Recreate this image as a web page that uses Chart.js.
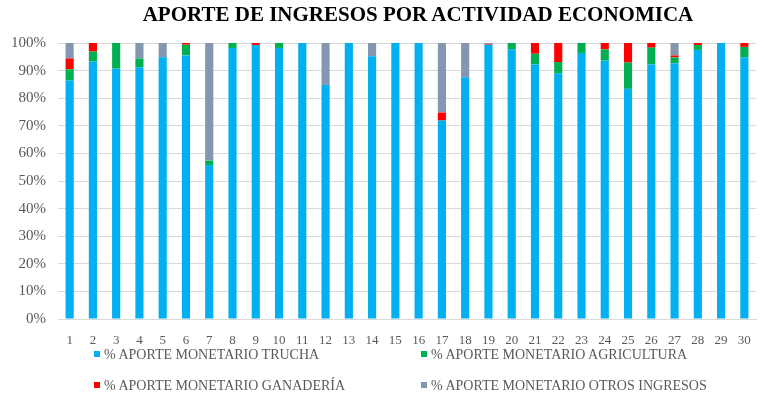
<!DOCTYPE html>
<html lang="es">
<head>
    <meta charset="UTF-8">
    <title>Aporte de ingresos por actividad economica</title>
    <script src="https://cdn.jsdelivr.net/npm/chart.js"></script>
    <style>
        html, body {
            margin: 0;
            padding: 0;
            background: #fff;
        }
        #wrap {
            position: relative;
            width: 765px;
            height: 399px;
        }
        #titulo {
            position: absolute;
            left: 0;
            width: 836px;
            top: 2px;
            text-align: center;
            font: bold 21px "Liberation Serif", serif;
            color: #000;
        }
        .leyenda {
            position: absolute;
            font: 14px "Liberation Serif", serif;
            color: #595959;
            white-space: nowrap;
        }
        .leyenda span {
            display: inline-block;
            width: 6px;
            height: 6px;
            margin-right: 4px;
            vertical-align: 2px;
        }
    </style>
</head>
<body>
<div id="wrap">
    <canvas id="grafico" width="765" height="399"></canvas>
    <div id="titulo">APORTE DE INGRESOS POR ACTIVIDAD ECONOMICA</div>
    <div id="leyenda"></div>
</div>

<script>
    // datos
    const categorias = ['1','2','3','4','5','6','7','8','9','10','11','12','13','14','15',
        '16','17','18','19','20','21','22','23','24','25','26','27','28','29','30'];

    const trucha = [86.4, 93.3, 90.7, 91.2, 94.8, 95.5, 55.8, 98.2, 99.3, 98.2,
        100, 84.8, 100, 95.2, 100, 100, 71.9, 87.6, 99.4, 97.6,
        92.2, 89.0, 96.4, 93.6, 83.4, 92.2, 92.7, 97.5, 100, 94.8];
    const agricultura = [4.1, 3.6, 9.3, 3.2, 0, 3.9, 1.6, 1.8, 0, 1.8,
        0, 0, 0, 0, 0, 0, 0, 0, 0, 2.4,
        3.9, 4.1, 3.6, 4.1, 9.5, 6.1, 2.1, 1.8, 0, 3.8];
    const ganaderia = [3.9, 3.1, 0, 0, 0, 0.6, 0, 0, 0.7, 0,
        0, 0, 0, 0, 0, 0, 2.9, 0, 0.3, 0,
        3.9, 6.9, 0, 2.3, 7.1, 1.7, 0.7, 0.7, 0, 1.4];
    const otros = [5.6, 0, 0, 5.6, 5.2, 0, 42.6, 0, 0, 0,
        0, 15.2, 0, 4.8, 0, 0, 25.2, 12.4, 0.3, 0,
        0, 0, 0, 0, 0, 0, 4.5, 0, 0, 0];

    const nombres = ['% APORTE MONETARIO TRUCHA', '% APORTE MONETARIO AGRICULTURA',
        '% APORTE MONETARIO GANADERÍA', '% APORTE MONETARIO OTROS INGRESOS'];
    const colores = ['#00B0F0', '#00B050', '#FF0000', '#8497B0'];
    const ticksY = [0, 10, 20, 30, 40, 50, 60, 70, 80, 90, 100];

    const series = [trucha, agricultura, ganaderia, otros];

    // leyenda en dos columnas como el original
    const posLeyenda = [[94, 347], [421, 347], [94, 378], [421, 378]];
    const cajaLeyenda = document.getElementById('leyenda');
    nombres.forEach((n, i) => {
        const d = document.createElement('div');
        d.className = 'leyenda';
        d.style.left = posLeyenda[i][0] + 'px';
        d.style.top = posLeyenda[i][1] + 'px';
        d.innerHTML = '<span style="background:' + colores[i] + '"></span>' + n;
        cajaLeyenda.appendChild(d);
    });

    const ctx = document.getElementById('grafico').getContext('2d');
    new Chart(ctx, {
        type: 'bar',
        data: {
            labels: categorias,
            datasets: series.map((s, i) => ({
                label: nombres[i],
                data: s,
                backgroundColor: colores[i],
                borderWidth: 0,
                barPercentage: 0.35,
                categoryPercentage: 1
            }))
        },
        options: {
            responsive: false,
            animation: false,
            layout: {
                padding: { top: 43, right: 9, bottom: 55, left: 0 }
            },
            plugins: {
                legend: { display: false },
                title: { display: false },
                tooltip: { enabled: false }
            },
            scales: {
                x: {
                    stacked: true,
                    grid: { display: false },
                    border: { color: '#D9D9D9' },
                    ticks: {
                        color: '#595959',
                        font: { family: 'Liberation Serif', size: 13 },
                        padding: 6,
                        maxRotation: 0,
                        autoSkip: false
                    },
                    afterFit: s => { s.height = 25; }
                },
                y: {
                    stacked: true,
                    min: 0,
                    max: 100,
                    afterBuildTicks: s => { s.ticks = ticksY.map(v => ({ value: v })); },
                    grid: { color: '#D9D9D9', drawTicks: false },
                    border: { display: false },
                    ticks: {
                        color: '#595959',
                        font: { family: 'Liberation Serif', size: 15 },
                        padding: 12,
                        callback: v => v + '%'
                    },
                    afterFit: s => { s.width = 58; }
                }
            }
        }
    });
</script>
</body>
</html>
